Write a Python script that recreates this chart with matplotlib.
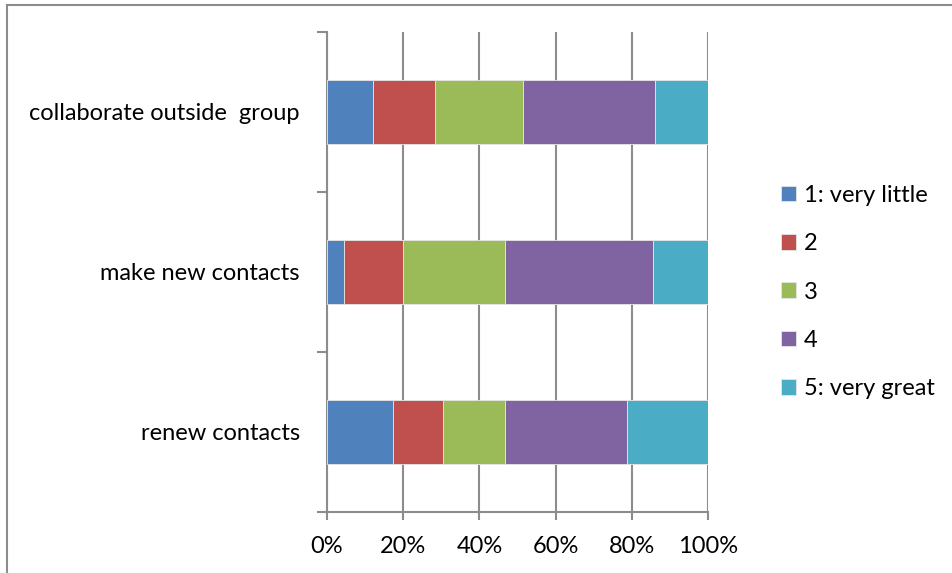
import matplotlib
matplotlib.use("Agg")
import matplotlib.pyplot as plt
from matplotlib.lines import Line2D
import numpy as np

plt.rcParams['font.family'] = ['Lato', 'DejaVu Sans']

# Share of responses per rating level (percent), bottom-to-top category order
categories = ["renew contacts", "make new contacts", "collaborate outside  group"]
levels = ["1: very little", "2", "3", "4", "5: very great"]
very_little = [17.4, 4.4, 12.2]
level_2 = [13.1, 15.6, 16.2]
level_3 = [16.3, 26.8, 23.0]
level_4 = [31.9, 38.8, 34.6]
very_great = [21.3, 14.4, 14.0]
series = [very_little, level_2, level_3, level_4, very_great]
colors = ["#4F81BD", "#C0504D", "#9BBB59", "#8064A2", "#4BACC6"]
xticks = [0, 20, 40, 60, 80, 100]

W, H = 953, 573
FS = 17
fig = plt.figure(figsize=(W / 100, H / 100), dpi=100)
ax = fig.add_axes([327 / W, 1 - 512 / H, (708 - 327) / W, (512 - 32) / H])

grey = "#8C8C8C"
y = np.arange(len(categories))
left = np.zeros(len(categories))
for vals, col, lab in zip(series, colors, levels):
    ax.barh(y, vals, left=left, height=0.4, color=col, label=lab,
            edgecolor="#E6E6E6", linewidth=0.6, zorder=3)
    left += np.array(vals)

ax.set_xlim(0, 100)
ax.set_ylim(-0.5, len(categories) - 0.5)
ax.set_xticks(xticks)
ax.set_xticklabels([f"{t}%" for t in xticks])
ax.xaxis.grid(True, color=grey, linewidth=1.5, zorder=0)
ax.set_axisbelow(True)

# boundary tick marks between categories, labels centred on each bar
ax.set_yticks(np.arange(-0.5, len(categories), 1.0))
ax.set_yticklabels([])
ax.set_yticks(y, minor=True)
ax.set_yticklabels(categories, minor=True)
ax.tick_params(axis="y", which="minor", length=0, pad=19.5, labelsize=FS)
ax.tick_params(axis="y", which="major", length=7, width=1.5, color=grey, direction="out")
ax.tick_params(axis="x", length=6, width=1.5, color=grey, direction="out", pad=11, labelsize=FS)

for s in ("top", "right"):
    ax.spines[s].set_visible(False)
for s in ("left", "bottom"):
    ax.spines[s].set_color(grey)
    ax.spines[s].set_linewidth(1.5)

handles, labels = ax.get_legend_handles_labels()
fig.legend(handles, labels, loc="center left", bbox_to_anchor=(781 / W, 1 - 292 / H),
           frameon=False, fontsize=FS, handlelength=0.64, handleheight=0.64,
           handletextpad=0.34, labelspacing=1.155, borderpad=0, borderaxespad=0)

# outer chart frame
fig.add_artist(Line2D([7.5 / W, 7.5 / W], [0, 1 - 5 / H], transform=fig.transFigure,
                      color=grey, linewidth=1.5))
fig.add_artist(Line2D([7.5 / W, 1], [1 - 5 / H, 1 - 5 / H], transform=fig.transFigure,
                      color=grey, linewidth=1.5))

fig.savefig("out.png", dpi=100)
